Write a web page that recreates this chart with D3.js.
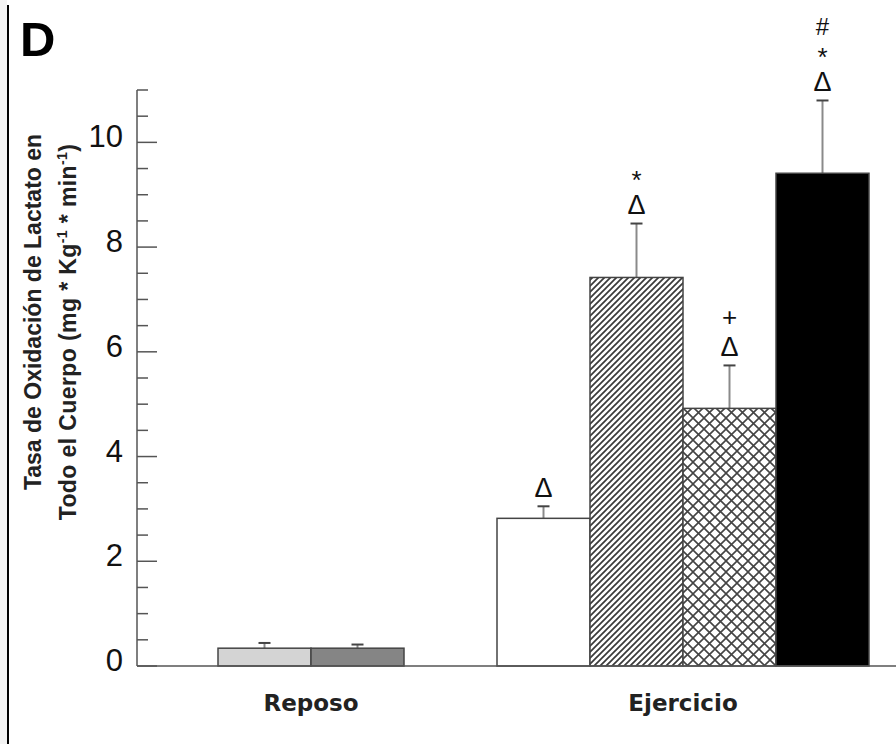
<!DOCTYPE html>
<html>
<head>
<meta charset="utf-8">
<script src="https://cdn.jsdelivr.net/npm/d3@7"></script>
<style>
  body { margin: 0; background: #fff; }
  svg { display: block; }
</style>
</head>
<body>
<div id="chart"></div>
<script>
// data
const groups = ["Reposo", "Ejercicio"];
const reposoMeans = [0.34, 0.34];
const reposoErr = [0.10, 0.07];
const ejercicioMeans = [2.82, 7.42, 4.92, 9.41];
const ejercicioErr = [0.23, 1.03, 0.82, 1.39];
const ejercicioMarks = [["Δ"], ["Δ", "*"], ["Δ", "+"], ["Δ", "*", "#"]];
const reposoFills = ["#d4d4d4", "#858585"];
const ejercicioFills = ["#ffffff", "url(#hatch)", "url(#cross)", "#000000"];
const yTicks = [0, 2, 4, 6, 8, 10];

const W = 896, H = 744;
const svg = d3.select("#chart").append("svg")
  .attr("width", W).attr("height", H);

// patterns
const defs = svg.append("defs");
const hatch = defs.append("pattern")
  .attr("id", "hatch").attr("patternUnits", "userSpaceOnUse")
  .attr("width", 6).attr("height", 6);
hatch.append("rect").attr("width", 6).attr("height", 6).attr("fill", "#fff");
hatch.append("path")
  .attr("d", "M0,6 L6,0 M-1.5,1.5 L1.5,-1.5 M4.5,7.5 L7.5,4.5")
  .attr("stroke", "#3a3a3a").attr("stroke-width", 1.7);

const cross = defs.append("pattern")
  .attr("id", "cross").attr("patternUnits", "userSpaceOnUse")
  .attr("width", 11).attr("height", 11);
cross.append("rect").attr("width", 11).attr("height", 11).attr("fill", "#fff");
cross.append("path")
  .attr("d", "M0,0 L11,11 M11,0 L0,11")
  .attr("stroke", "#444").attr("stroke-width", 1.6);

// frame on the left
svg.append("rect").attr("x", 0).attr("y", 0).attr("width", 7).attr("height", H).attr("fill", "#f3f3f3");
svg.append("line").attr("x1", 8).attr("x2", 8).attr("y1", 5).attr("y2", H)
  .attr("stroke", "#000").attr("stroke-width", 2);

// panel letter
svg.append("text").attr("x", 20).attr("y", 56)
  .style("font-family", "Liberation Sans, Arial, sans-serif")
  .style("font-weight", "bold").style("font-size", "49px")
  .text("D");

// scales
const y = d3.scaleLinear().domain([0, 11]).range([666, 90]);
const x0 = d3.scaleBand().domain(groups).range([125, 869]);
const slot = x0.bandwidth() / 4;

function barX(group, i, n) {
  return x0(group) + x0.bandwidth() / 2 - n * slot / 2 + i * slot;
}

// y axis: minor ticks every 0.5, major (labelled) every 2
const axisG = svg.append("g");
axisG.append("line").attr("x1", 137).attr("x2", 137).attr("y1", y(11)).attr("y2", y(0))
  .attr("stroke", "#555").attr("stroke-width", 1.5);
axisG.selectAll(".minor")
  .data(d3.range(0, 11.01, 0.5).filter(d => !yTicks.includes(d)))
  .join("line")
    .attr("x1", 137).attr("x2", 148)
    .attr("y1", d => y(d)).attr("y2", d => y(d))
    .attr("stroke", "#555").attr("stroke-width", 1.5);
axisG.selectAll(".major")
  .data(yTicks)
  .join("line")
    .attr("x1", 137).attr("x2", 157)
    .attr("y1", d => y(d)).attr("y2", d => y(d))
    .attr("stroke", "#555").attr("stroke-width", 1.5);
axisG.selectAll(".lbl")
  .data(yTicks)
  .join("text")
    .attr("x", 123).attr("y", d => y(d) + 5)
    .attr("text-anchor", "end")
    .style("font-family", "Liberation Sans, Arial, sans-serif")
    .style("font-size", "31px").style("fill", "#111")
    .text(d => d);

// y title (two lines)
svg.append("text")
  .attr("transform", "translate(41,312) rotate(-90)")
  .attr("text-anchor", "middle")
  .style("font-family", "Liberation Sans, Arial, sans-serif")
  .style("font-weight", "bold").style("font-size", "23px").style("fill", "#222")
  .text("Tasa de Oxidación de Lactato en");
const t2 = svg.append("text")
  .attr("transform", "translate(76,332) rotate(-90)")
  .attr("text-anchor", "middle")
  .style("font-family", "Liberation Sans, Arial, sans-serif")
  .style("font-weight", "bold").style("font-size", "23px").style("fill", "#222")
  .style("letter-spacing", "0.4px");
t2.append("tspan").text("Todo el Cuerpo (mg * Kg");
t2.append("tspan").attr("dy", -9).style("font-size", "14px").text("-1");
t2.append("tspan").attr("dy", 9).text(" * min");
t2.append("tspan").attr("dy", -9).style("font-size", "14px").text("-1");
t2.append("tspan").attr("dy", 9).text(")");

// bars
const reposoData = reposoMeans.map((v, i) => ({g: "Reposo", i, n: 2, v, e: reposoErr[i], fill: reposoFills[i], marks: []}));
const ejercicioData = ejercicioMeans.map((v, i) => ({g: "Ejercicio", i, n: 4, v, e: ejercicioErr[i], fill: ejercicioFills[i], marks: ejercicioMarks[i]}));
const allBars = reposoData.concat(ejercicioData);

// error bars (drawn first so the bar outline sits on top)
svg.selectAll(".err")
  .data(allBars)
  .join("line")
    .attr("x1", d => barX(d.g, d.i, d.n) + slot / 2)
    .attr("x2", d => barX(d.g, d.i, d.n) + slot / 2)
    .attr("y1", d => y(d.v)).attr("y2", d => y(d.v + d.e))
    .attr("stroke", "#8a8a8a").attr("stroke-width", 2);
svg.selectAll(".cap")
  .data(allBars)
  .join("line")
    .attr("x1", d => barX(d.g, d.i, d.n) + slot / 2 - 6)
    .attr("x2", d => barX(d.g, d.i, d.n) + slot / 2 + 6)
    .attr("y1", d => y(d.v + d.e)).attr("y2", d => y(d.v + d.e))
    .attr("stroke", "#444").attr("stroke-width", 2);

svg.selectAll(".bar")
  .data(allBars)
  .join("rect")
    .attr("x", d => barX(d.g, d.i, d.n))
    .attr("width", slot)
    .attr("y", d => y(d.v))
    .attr("height", d => y(0) - y(d.v))
    .attr("fill", d => d.fill)
    .attr("stroke", "#444").attr("stroke-width", 1.5);

// baseline
svg.append("line").attr("x1", 137).attr("x2", W).attr("y1", y(0)).attr("y2", y(0))
  .attr("stroke", "#555").attr("stroke-width", 1.5);

// significance marks above the error bars
// size and baseline shift so that each glyph's ink is centred on its slot
const markSize = {"Δ": 27, "*": 26, "+": 26, "#": 24};
const markShift = {"Δ": 0.36, "*": 0.57, "+": 0.36, "#": 0.36};
const markGap = [19, 49, 74];
allBars.forEach(d => {
  d.marks.forEach((m, k) => {
    svg.append("text")
      .attr("x", barX(d.g, d.i, d.n) + slot / 2)
      .attr("y", y(d.v + d.e) - markGap[k] + markShift[m] * markSize[m])
      .attr("text-anchor", "middle")
      .style("font-family", "Liberation Sans, Arial, sans-serif")
      .style("font-size", markSize[m] + "px").style("fill", "#111")
      .text(m);
  });
});

// group labels
svg.selectAll(".grp")
  .data(groups)
  .join("text")
    .attr("x", d => x0(d) + x0.bandwidth() / 2)
    .attr("y", 711)
    .attr("text-anchor", "middle")
    .style("font-family", "DejaVu Sans, Verdana, sans-serif")
    .style("font-weight", "bold").style("font-size", "23px").style("fill", "#222")
    .text(d => d);
</script>
</body>
</html>
